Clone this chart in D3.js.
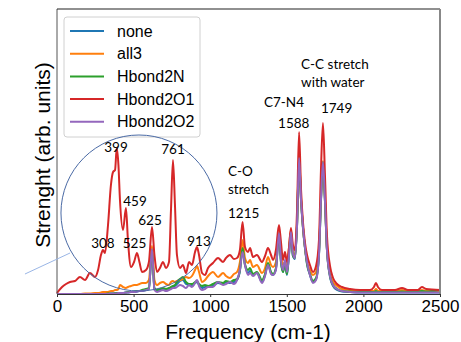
<!DOCTYPE html>
<html><head><meta charset="utf-8">
<script src="https://cdn.jsdelivr.net/npm/d3@7"></script>
<style>body{margin:0;background:#fff}svg{display:block}</style>
</head><body><svg id="c" width="461" height="342"></svg>
<script>
const freq = [0,33,59,85,117,150,183,215,248,268,287,300,313,333,352,366,379,390,401,411,431,450,463,483,503,522,538,555,581,600,620,636,653,672,692,711,731,744,757,770,783,803,822,842,862,881,901,914,927,947,966,986,1018,1051,1084,1103,1129,1155,1175,1194,1211,1227,1247,1260,1279,1305,1338,1358,1377,1397,1410,1429,1449,1462,1475,1488,1501,1514,1527,1540,1553,1567,1580,1593,1606,1619,1632,1651,1671,1691,1710,1723,1736,1749,1762,1782,1802,1828,1860,1913,1978,2043,2069,2082,2095,2121,2206,2252,2291,2356,2382,2409,2500];
const none = [0,0,0,0,0,0,0,0,0,0, 0,0,0,0,0.5,0.5,0.5,0.5,1,1, 1,1.5,1.5,2,2,2.5,3,3,4,5, 44,5,3,4,5,4,5,6,7,8, 10,13,14,10,9,8,11,12,9,6, 7,7,8,11,10,12,11,12,14,23, 44,29,21,23,19,21,12,19,30,21, 19,25,60,32,22,31,19,39,61,38, 35,69,134,93,65,45,30,19,12,15, 39,93,131,93,44,17,8,4,2.5,2, 1.5,1.5,1.5,1.5,1.5,1.5,1.5,1.5,1.5,1.5, 1.5,1.5,1.5];
const all3 = [0,0,0,0,0,0,0.5,0.5,1,1, 1.5,2,2,2,3,3,4,4,5,9, 7,6,7,8,9,9,10,11,11,14, 48,14,9,11,12,10,9,12,13,12, 13,14,15,17,16,18,24,28,22,12, 14,18,22,17,21,18,16,20,22,32, 54,36,31,34,27,29,21,26,37,29, 27,32,62,40,29,32,27,46,64,42, 38,72,138,96,66,46,32,24,19,22, 45,96,133,96,46,20,12,8,5,4, 3,3,3,5,3,3,3,4,3,3, 4,3,3];
const hbond2N = [0,0,0,0,0,0,0,0,0,0, 0,0,0,0.5,0.5,0.5,1,1,1,1, 1,1.5,2,2,2.5,3,3,4,5,6, 44,6,4,5,6,5,6,7,8,9, 12,15,17,12,10,10,12,13,10,8, 9,8,10,12,11,13,12,14,15,24, 46,30,24,26,20,22,14,20,31,22, 20,26,60,32,22,30,20,40,62,38, 36,70,135,94,66,46,30,20,13,16, 40,94,132,94,45,18,9,5,3,2.5, 2,2,2,3,2,2,2,2.5,2,2.5, 3,2.5,4];
const hbond2O1 = [1,7,10,12,13,17,14,21,17,24, 39,44,41,69,109,122,124,146,129,94, 64,86,54,27,32,41,32,22,24,32, 67,39,22,26,32,26,32,84,134,89, 39,26,29,21,32,29,42,47,39,21, 19,26,31,36,32,36,39,35,36,44, 72,47,42,46,37,39,32,38,46,39, 34,44,69,52,34,42,32,46,66,49, 44,84,162,104,71,51,39,29,22,28, 54,124,171,119,59,28,16,10,7,5, 4,4,7,11,7,4,4,6,4,4, 7,5,4];
const hbond2O2 = [0,0,0,0,0,0,0,0,0,0, 0,0,0,0,0.5,0.5,0.5,0.5,1,1, 1,1.5,1.5,2,2,2.5,3,3,4,5, 45,4,2,3,4,3,4,5,6,6, 7,9,8,6,9,7,11,14,8,4, 5,7,7,12,9,10,12,10,14,24, 42,29,19,21,18,21,11,18,29,20, 19,24,61,34,24,34,22,38,62,40, 36,69,136,94,66,46,32,19,11,14, 39,94,132,94,44,18,9,5,3,2, 1.5,1.5,1.5,1.5,1.5,1.5,1.5,1.5,1.5,1.5, 1.5,1.5,1.5];
const seriesNames = ["none","all3","Hbond2N","Hbond2O1","Hbond2O2"];
const seriesValues = [none, all3, hbond2N, hbond2O1, hbond2O2];
const colors = ["#1f77b4","#ff7f0e","#2ca02c","#d62728","#9467bd"];
const xTicks = [0,500,1000,1500,2000,2500];
const peakLabels = [["399",385,142],["761",757,140],["459",509,88],["625",607,69],["308",300,46],["525",506,46],["913",927,48]];
const sideLabels = [["C-O",1116,118],["stretch",1116,100],["1215",1116,76],["C7-N4",1351,187],["1588",1443,166],["1749",1723,181],["C-C stretch",1593,225],["with water",1593,207]];

const svg = d3.select("#c");
const L=57,R=440,T=9,B=294;
const x = d3.scaleLinear().domain([0,2500]).range([L,R]);
const y = d3.scaleLinear().domain([0,285]).range([B,T]);

const line = d3.line().x((d,i)=>x(freq[i])).y(d=>y(d)).curve(d3.curveMonotoneX);
const g = svg.append("g");
seriesValues.forEach((vals,k)=>{
  g.append("path").attr("d",line(vals)).attr("fill","none")
   .attr("stroke",colors[k]).attr("stroke-width",2).attr("stroke-linejoin","round");
});

// frame
svg.append("line").attr("x1",L).attr("x2",L).attr("y1",T).attr("y2",B).attr("stroke","#555").attr("stroke-width",1);
svg.append("line").attr("x1",L).attr("x2",R).attr("y1",T).attr("y2",T).attr("stroke","#222").attr("stroke-width",1.2);
svg.append("line").attr("x1",R).attr("x2",R).attr("y1",T).attr("y2",B).attr("stroke","#888").attr("stroke-width",2);

const ax = svg.append("g").attr("transform",`translate(0,${B})`)
  .call(d3.axisBottom(x).tickValues(xTicks).tickSize(3).tickPadding(3).tickFormat(d3.format("d")));
ax.select(".domain").attr("stroke","#333");
ax.selectAll("line").attr("stroke","#333");
ax.selectAll("text").attr("font-family","'Liberation Sans', Arial, sans-serif").attr("font-size",17).attr("fill","#000");

svg.append("text").attr("x",248).attr("y",339).attr("text-anchor","middle")
  .attr("font-family","'Liberation Sans', Arial, sans-serif").attr("font-size",21).text("Frequency (cm-1)");
svg.append("text").attr("transform","translate(42,155) rotate(-90)").attr("text-anchor","middle")
  .attr("dominant-baseline","central")
  .attr("font-family","'Liberation Sans', Arial, sans-serif").attr("font-size",21).text("Strenght (arb. units)");

// legend
const lg = svg.append("g");
lg.append("rect").attr("x",64).attr("y",17).attr("width",136).attr("height",120).attr("rx",3)
  .attr("fill","#fff").attr("fill-opacity",0.85).attr("stroke","#d0d0d0");
seriesNames.forEach((n,k)=>{
  const yy = 31 + k*22.7;
  lg.append("line").attr("x1",70).attr("x2",104).attr("y1",yy).attr("y2",yy).attr("stroke",colors[k]).attr("stroke-width",2);
  lg.append("text").attr("x",117).attr("y",yy).attr("dominant-baseline","central")
    .attr("font-family","'Liberation Sans', Arial, sans-serif").attr("font-size",16).text(n);
});

// annotations
svg.append("circle").attr("cx",x(535)).attr("cy",y(81)).attr("r",78)
  .attr("fill","none").attr("stroke","#4a6aa5").attr("stroke-width",1);
svg.append("line").attr("x1",x(-209)).attr("y1",y(20)).attr("x2",x(85)).attr("y2",y(41))
  .attr("stroke","#9ab6e6").attr("stroke-width",1);
const af = "Lato, 'Open Sans', sans-serif";
peakLabels.forEach(([t,f,v])=>{
  svg.append("text").attr("x",x(f)).attr("y",y(v)).attr("text-anchor","middle")
    .attr("font-family",af).attr("font-size",13.5).attr("fill","#000").text(t);
});
sideLabels.forEach(([t,f,v])=>{
  svg.append("text").attr("x",x(f)).attr("y",y(v))
    .attr("font-family",af).attr("font-size",13.5).attr("fill","#000").text(t);
});
</script></body></html>
